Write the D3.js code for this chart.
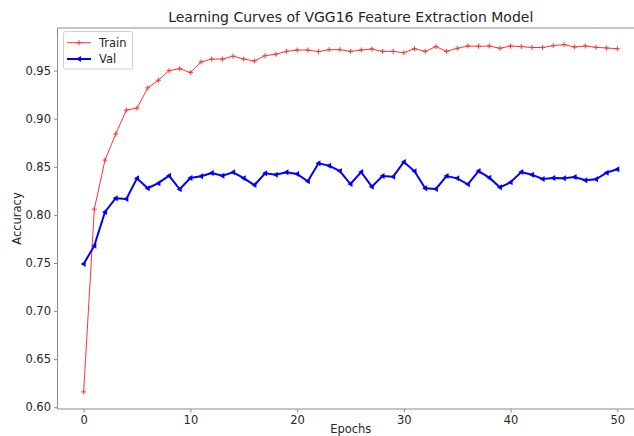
<!DOCTYPE html>
<html><head><meta charset="utf-8">
<script src="https://cdn.jsdelivr.net/npm/d3@7"></script>
<style>body{margin:0;background:#fff;}svg{display:block;font-family:"DejaVu Sans",sans-serif;}</style>
</head><body><svg id="c" width="634" height="436"></svg>
<script>
const epochs = d3.range(0, 51);
const trainAcc = [0.616,0.806,0.857,0.884,0.909,0.911,0.932,0.940,0.950,0.952,0.948,0.959,0.962,0.962,0.965,0.962,0.960,0.9655,0.967,0.970,0.9714,0.9714,0.9697,0.9718,0.9718,0.970,0.9714,0.9725,0.970,0.970,0.9686,0.9728,0.970,0.975,0.970,0.9732,0.9756,0.9753,0.9756,0.9732,0.9756,0.975,0.974,0.974,0.976,0.977,0.9745,0.9756,0.9742,0.9735,0.9728];
const valAcc = [0.749,0.768,0.803,0.8173,0.8165,0.838,0.8277,0.833,0.8408,0.8266,0.8384,0.8401,0.8436,0.8408,0.8443,0.8382,0.831,0.8432,0.8418,0.8443,0.8425,0.835,0.8536,0.8512,0.8456,0.8321,0.8446,0.8293,0.8404,0.8397,0.855,0.8453,0.8277,0.827,0.8404,0.838,0.8318,0.8456,0.8387,0.8287,0.8339,0.8446,0.8418,0.8373,0.8384,0.838,0.8394,0.836,0.837,0.8439,0.8474];
const xTicks = [0,10,20,30,40,50];
const yTicks = [0.60,0.65,0.70,0.75,0.80,0.85,0.90,0.95];
const title = "Learning Curves of VGG16 Feature Extraction Model";
const xLabel = "Epochs", yLabel = "Accuracy";
const seriesNames = ["Train","Val"];

const svg = d3.select("#c");
const L = 57.5, R = 644, T = 28, B = 409;
const x = d3.scaleLinear().domain([-2.45, 52.5]).range([L, R]);
const y = d3.scaleLinear().domain([0.5982, 0.9943]).range([B, T]);
const spine = "#8c8c8c", txt = "#262626";

const g = svg.append("g");
g.append("line").attr("x1",L).attr("x2",L).attr("y1",T).attr("y2",B).attr("stroke",spine).attr("stroke-width",1);
g.append("line").attr("x1",L).attr("x2",R).attr("y1",B).attr("y2",B).attr("stroke",spine).attr("stroke-width",1);
g.append("line").attr("x1",L).attr("x2",R).attr("y1",T).attr("y2",T).attr("stroke",spine).attr("stroke-width",1);
g.append("line").attr("x1",R).attr("x2",R).attr("y1",T).attr("y2",B).attr("stroke",spine).attr("stroke-width",1);

const xAxis = svg.append("g").attr("transform",`translate(0,${B})`)
  .call(d3.axisBottom(x).tickValues(xTicks).tickSize(3.5).tickPadding(3).tickFormat(d3.format("d")));
const yAxis = svg.append("g").attr("transform",`translate(${L},0)`)
  .call(d3.axisLeft(y).tickValues(yTicks).tickSize(3.5).tickPadding(3).tickFormat(d3.format(".2f")));
[xAxis,yAxis].forEach(a=>{
  a.select(".domain").remove();
  a.selectAll(".tick line").attr("stroke",spine);
  a.selectAll(".tick text").attr("fill",txt).style("font-size","11.5px").style("font-family","DejaVu Sans");
});

const line = d3.line().x((d,i)=>x(epochs[i])).y(d=>y(d));
svg.append("path").datum(trainAcc).attr("d",line).attr("fill","none").attr("stroke","#ff3333").attr("stroke-width",1);
svg.append("g").selectAll("path").data(trainAcc).join("path")
  .attr("transform",(d,i)=>`translate(${x(epochs[i])},${y(d)})`)
  .attr("d","M-2.5,0H2.5M0,-2.5V2.5").attr("stroke","#ff3333").attr("stroke-width",1);

svg.append("path").datum(valAcc).attr("d",line).attr("fill","none").attr("stroke","#0000ff").attr("stroke-width",2);
const tri = "M-3,0L2,-3L2,3Z";
svg.append("g").selectAll("path").data(valAcc).join("path")
  .attr("transform",(d,i)=>`translate(${x(epochs[i])},${y(d)})`)
  .attr("d",tri).attr("fill","#0000ff");

svg.append("text").attr("x",(L+R)/2).attr("y",22).attr("text-anchor","middle")
  .style("font-size","14px").attr("fill",txt).text(title);
svg.append("text").attr("x",(L+R)/2).attr("y",433).attr("text-anchor","middle")
  .style("font-size","11.5px").attr("fill",txt).text(xLabel);
svg.append("text").attr("transform",`translate(21,${(T+B)/2}) rotate(-90)`).attr("text-anchor","middle")
  .style("font-size","11.5px").attr("fill",txt).text(yLabel);

const lg = svg.append("g");
lg.append("rect").attr("x",63.5).attr("y",31.5).attr("width",69).attr("height",37.5).attr("rx",2)
  .attr("fill","#fff").attr("stroke","#d0d0d0").attr("stroke-width",1);
const rows = [{n:seriesNames[0],c:"#ff3333",w:1,m:"M-2.5,0H2.5M0,-2.5V2.5",f:false},{n:seriesNames[1],c:"#0000ff",w:2,m:tri,f:true}];
rows.forEach((r,i)=>{
  const yy = 42.7 + i*16.3;
  lg.append("line").attr("x1",67).attr("x2",91).attr("y1",yy).attr("y2",yy).attr("stroke",r.c).attr("stroke-width",r.w);
  const mk = lg.append("path").attr("transform",`translate(79,${yy})`).attr("d",r.m);
  if(r.f) mk.attr("fill",r.c); else mk.attr("stroke",r.c).attr("fill","none");
  lg.append("text").attr("x",99).attr("y",yy+4).style("font-size","11.5px").attr("fill",txt).text(r.n);
});
</script></body></html>
